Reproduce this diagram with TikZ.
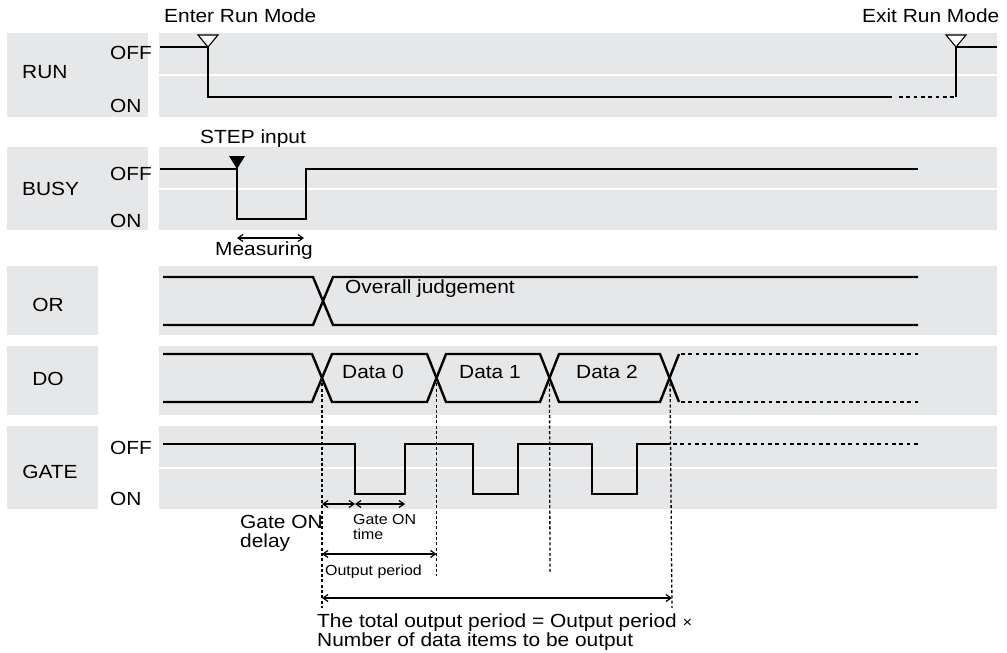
\documentclass[tikz,border=0pt]{standalone}
\usepackage{fontspec}
\setmainfont{Liberation Sans}[FakeStretch=1.1]
\usetikzlibrary{arrows.meta}
\definecolor{panel}{RGB}{230,231,233}
\newcommand\bigtxt{\fontsize{19}{20}\selectfont}
\newcommand\smalltxt{\fontsize{14.5}{15.5}\selectfont}
\newcommand\tinytxt{\fontsize{15}{16}\selectfont}
\begin{document}
\begin{tikzpicture}[x=1pt,y=-1pt,
  panelbg/.style={fill=panel},
  split/.style={draw=white,line width=2pt},
  sig/.style={line width=2.4pt,line join=miter,line cap=butt},
  sigdot/.style={line width=2.4pt,dash pattern=on 3.7pt off 3.6pt},
  guide/.style={line width=1.3pt,dash pattern=on 3pt off 2.3pt},
  dim/.style={line width=1.2pt,{Straight Barb[length=5pt,width=7pt]}-{Straight Barb[length=5pt,width=7pt]}},
  txt/.style={inner sep=0pt,anchor=base west,font=\bigtxt},
  ctxt/.style={inner sep=0pt,anchor=base,font=\bigtxt},
  stxt/.style={inner sep=0pt,anchor=base west,font=\smalltxt},
  mark open/.style={line width=1.1pt,fill=white,line join=miter},
  mark solid/.style={fill=black}]
\useasboundingbox (0,0) rectangle (1007,653);
% panels
\fill[panelbg] (7,33) rectangle (148,117);
\fill[panelbg] (159,33) rectangle (997,117);
\draw[split] (159,75) -- (997,75);
\fill[panelbg] (7,147) rectangle (148,230);
\fill[panelbg] (159,147) rectangle (997,230);
\draw[split] (159,189) -- (997,189);
\fill[panelbg] (7,266) rectangle (98,335);
\fill[panelbg] (159,266) rectangle (997,335);
\fill[panelbg] (7,346) rectangle (98,415);
\fill[panelbg] (159,346) rectangle (997,415);
\fill[panelbg] (7,426) rectangle (98,509);
\fill[panelbg] (159,426) rectangle (997,509);
\draw[split] (159,468) -- (997,468);
% row labels
\node[txt] (lrun) at (22,78) {RUN};
\node[txt] (lbusy) at (22,195) {BUSY};
\node[ctxt] (lor) at (48,311) {OR};
\node[ctxt] (ldo) at (48,385) {DO};
\node[ctxt] (lgate) at (50,478) {GATE};
\node[txt] (runoff) at (110,59.5) {OFF};
\node[txt] (runon) at (110,112) {ON};
\node[txt] (busyoff) at (110,180) {OFF};
\node[txt] (busyon) at (110,227) {ON};
\node[txt] (gateoff) at (110,454) {OFF};
\node[txt] (gateon) at (110,505) {ON};
% key coordinates
\coordinate (x1) at (322,378);
\coordinate (x2) at (436.5,378);
\coordinate (x3) at (549.5,378);
\coordinate (x4) at (670,378);
% RUN
\draw[sig] (160,47) -- (208,47) -- (208,97) -- (892,97);
\draw[sigdot] (899,97) -- (956,97);
\draw[sig] (956,97) -- (956,47) -- (997,47);
\draw[mark open] (208,47) -- (198,35) -- (218,35) -- cycle;
\draw[mark open] (956,47) -- (946,35) -- (966,35) -- cycle;
\node[txt] (enter) at (164,22.5) {Enter Run Mode};
\node[txt] (exit) at (862,22.5) {Exit Run Mode};
% BUSY
\draw[sig] (160,169) -- (237,169) -- (237,219) -- (306,219) -- (306,169) -- (918,169);
\fill[mark solid] (237,169) -- (229,156) -- (245,156) -- cycle;
\node[txt] (step) at (200,143) {STEP input};
\coordinate (m1) at (237,238);
\coordinate (m2) at (304,238);
\draw[dim] (m1) -- (m2);
\node[txt] (meas) at (215,255) {Measuring};
% OR
\draw[sig] (163,277) -- (313,277) -- (333,325) -- (918,325);
\draw[sig] (163,325) -- (313,325) -- (333,277) -- (918,277);
\node[txt] (overall) at (345,293) {Overall judgement};
% DO
\draw[sig] (163,354) -- (312,354) -- (332,402) -- (427,402) -- (446,354) -- (540,354) -- (559,402) -- (660,402) -- (679,354);
\draw[sig] (163,402) -- (312,402) -- (332,354) -- (427,354) -- (446,402) -- (540,402) -- (559,354) -- (660,354) -- (679,402);
\draw[sigdot] (681,354) -- (918,354);
\draw[sigdot] (681,402) -- (918,402);
\node[ctxt] (d0) at (373,378) {Data 0};
\node[ctxt] (d1) at (490,378) {Data 1};
\node[ctxt] (d2) at (607,378) {Data 2};
% GATE
\draw[sig] (163,444) -- (355,444) -- (355,494) -- (405,494) -- (405,444) -- (473,444) -- (473,494) -- (518,494) -- (518,444) -- (592,444) -- (592,494) -- (637,494) -- (637,444) -- (670,444);
\draw[sigdot] (673,444) -- (918,444);
% guides
\draw[guide] (x1) -- (322,608);
\draw[guide] (x2) -- (436.5,576);
\draw[guide] (x3) -- (550,574);
\draw[guide] (x4) -- (672,608);
% dimension arrows
\coordinate (gd1) at (322,504);
\coordinate (gd2) at (355,504);
\coordinate (gd3) at (405,504);
\draw[dim] (gd1) -- (gd2);
\draw[dim] (gd2) -- (gd3);
\node[txt] (gdl1) at (240,528) {Gate ON};
\node[txt] (gdl2) at (240,547.5) {delay};
\node[stxt] (gtl1) at (353,524) {Gate ON};
\node[stxt] (gtl2) at (353,539) {time};
\coordinate (op1) at (322,554);
\coordinate (op2) at (436.5,554);
\draw[dim] (op1) -- (op2);
\node[stxt] (opl) at (325,575) {Output period};
\coordinate (tp1) at (322,598);
\coordinate (tp2) at (672,598);
\draw[dim] (tp1) -- (tp2);
\node[txt] (tpl1) at (317,627) {The total output period = Output period {\tinytxt ×}};
\node[txt] (tpl2) at (317,646) {Number of data items to be output};
\end{tikzpicture}
\end{document}
